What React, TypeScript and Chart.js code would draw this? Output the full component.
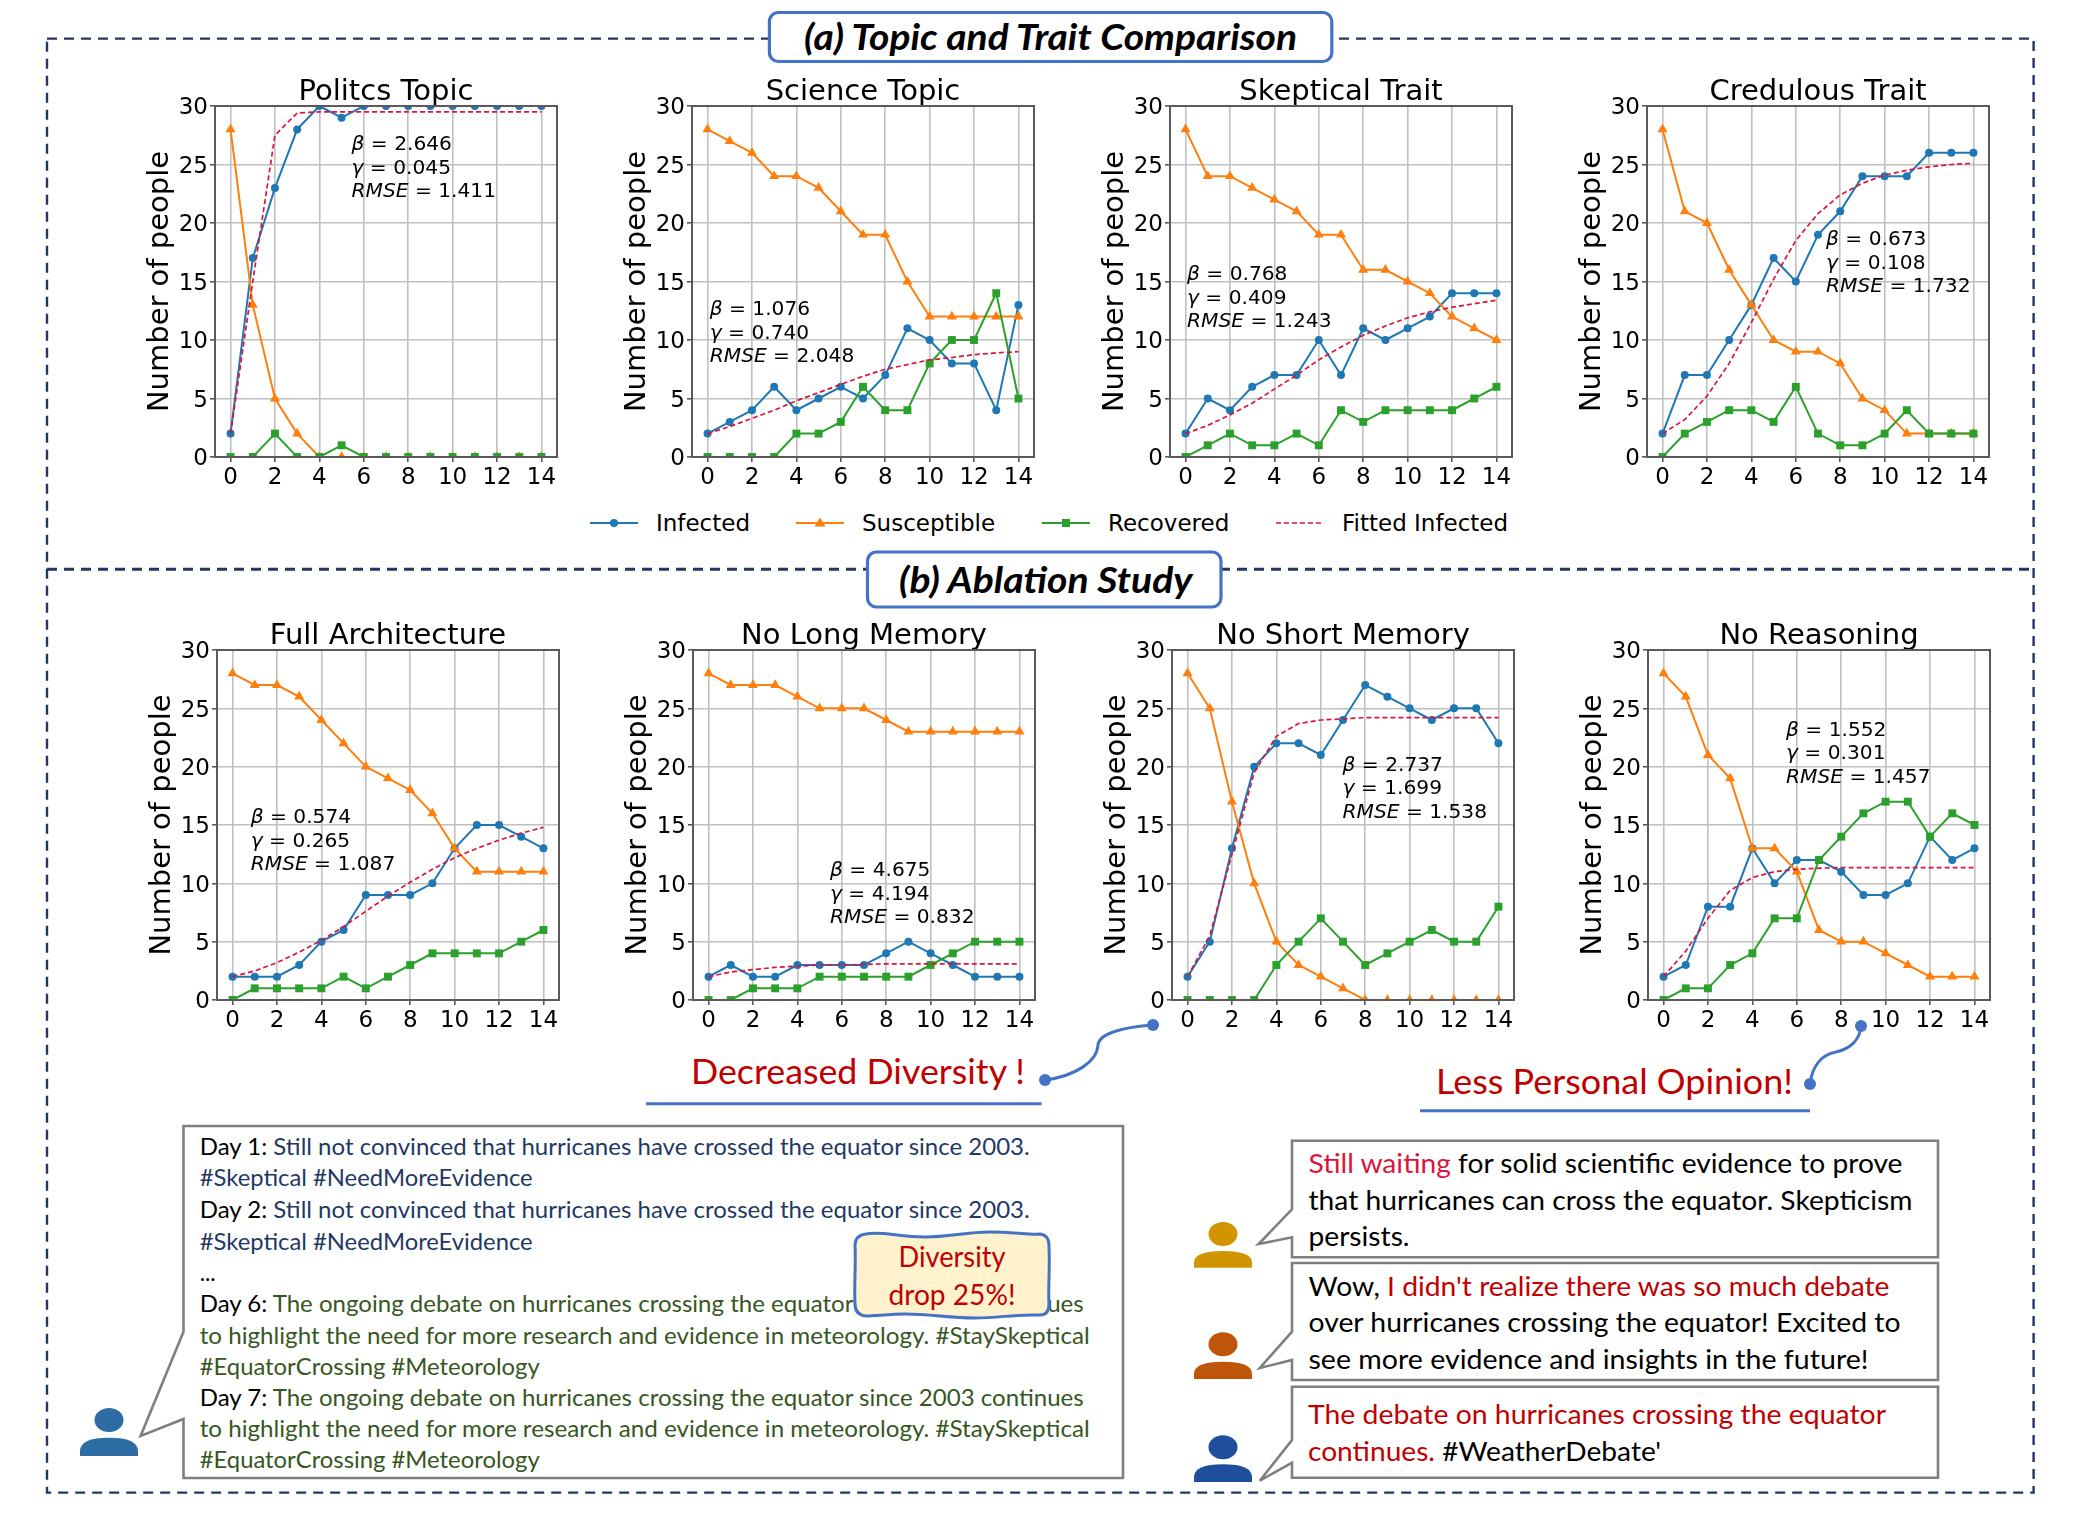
import React, { useEffect, useRef } from "react";
import { Chart, registerables } from "chart.js";

Chart.register(...registerables);

const days = [0, 1, 2, 3, 4, 5, 6, 7, 8, 9, 10, 11, 12, 13, 14];
const xTicks = [0, 2, 4, 6, 8, 10, 12, 14];

const politicsInfected = [2, 17, 23, 28, 30, 29, 30, 30, 30, 30, 30, 30, 30, 30, 30];
const politicsSusceptible = [28, 13, 5, 2, 0, 0, 0, 0, 0, 0, 0, 0, 0, 0, 0];
const politicsRecovered = [0, 0, 2, 0, 0, 1, 0, 0, 0, 0, 0, 0, 0, 0, 0];
const politicsFitted = [2, 15, 27.5, 29.4, 29.5, 29.5, 29.5, 29.5, 29.5, 29.5, 29.5, 29.5, 29.5, 29.5, 29.5];

const scienceInfected = [2, 3, 4, 6, 4, 5, 6, 5, 7, 11, 10, 8, 8, 4, 13];
const scienceSusceptible = [28, 27, 26, 24, 24, 23, 21, 19, 19, 15, 12, 12, 12, 12, 12];
const scienceRecovered = [0, 0, 0, 0, 2, 2, 3, 6, 4, 4, 8, 10, 10, 14, 5];
const scienceFitted = [2, 2.6, 3.3, 4.0, 4.8, 5.5, 6.2, 6.9, 7.5, 7.9, 8.3, 8.5, 8.75, 8.9, 9.0];

const skepticalInfected = [2, 5, 4, 6, 7, 7, 10, 7, 11, 10, 11, 12, 14, 14, 14];
const skepticalSusceptible = [28, 24, 24, 23, 22, 21, 19, 19, 16, 16, 15, 14, 12, 11, 10];
const skepticalRecovered = [0, 1, 2, 1, 1, 2, 1, 4, 3, 4, 4, 4, 4, 5, 6];
const skepticalFitted = [2, 2.7, 3.6, 4.6, 5.8, 7.0, 8.3, 9.4, 10.4, 11.2, 11.9, 12.4, 12.8, 13.1, 13.4];

const credulousInfected = [2, 7, 7, 10, 13, 17, 15, 19, 21, 24, 24, 24, 26, 26, 26];
const credulousSusceptible = [28, 21, 20, 16, 13, 10, 9, 9, 8, 5, 4, 2, 2, 2, 2];
const credulousRecovered = [0, 2, 3, 4, 4, 3, 6, 2, 1, 1, 2, 4, 2, 2, 2];
const credulousFitted = [2, 3.2, 5.2, 8.0, 11.5, 15.2, 18.5, 20.8, 22.4, 23.4, 24.1, 24.5, 24.8, 25.0, 25.1];

const fullInfected = [2, 2, 2, 3, 5, 6, 9, 9, 9, 10, 13, 15, 15, 14, 13];
const fullSusceptible = [28, 27, 27, 26, 24, 22, 20, 19, 18, 16, 13, 11, 11, 11, 11];
const fullRecovered = [0, 1, 1, 1, 1, 2, 1, 2, 3, 4, 4, 4, 4, 5, 6];
const fullFitted = [2, 2.5, 3.2, 4.1, 5.1, 6.3, 7.6, 8.9, 10.1, 11.2, 12.2, 13.0, 13.7, 14.3, 14.8];

const noLongInfected = [2, 3, 2, 2, 3, 3, 3, 3, 4, 5, 4, 3, 2, 2, 2];
const noLongSusceptible = [28, 27, 27, 27, 26, 25, 25, 25, 24, 23, 23, 23, 23, 23, 23];
const noLongRecovered = [0, 0, 1, 1, 1, 2, 2, 2, 2, 2, 3, 4, 5, 5, 5];
const noLongFitted = [2, 2.4, 2.6, 2.8, 2.9, 3.0, 3.0, 3.05, 3.1, 3.1, 3.1, 3.1, 3.1, 3.1, 3.1];

const noShortInfected = [2, 5, 13, 20, 22, 22, 21, 24, 27, 26, 25, 24, 25, 25, 22];
const noShortSusceptible = [28, 25, 17, 10, 5, 3, 2, 1, 0, 0, 0, 0, 0, 0, 0];
const noShortRecovered = [0, 0, 0, 0, 3, 5, 7, 5, 3, 4, 5, 6, 5, 5, 8];
const noShortFitted = [2, 5.5, 12.5, 19.5, 22.6, 23.7, 24.0, 24.1, 24.2, 24.2, 24.2, 24.2, 24.2, 24.2, 24.2];

const noReasoningInfected = [2, 3, 8, 8, 13, 10, 12, 12, 11, 9, 9, 10, 14, 12, 13];
const noReasoningSusceptible = [28, 26, 21, 19, 13, 13, 11, 6, 5, 5, 4, 3, 2, 2, 2];
const noReasoningRecovered = [0, 1, 1, 3, 4, 7, 7, 12, 14, 16, 17, 17, 14, 16, 15];
const noReasoningFitted = [2, 4.2, 7, 9.4, 10.5, 11, 11.2, 11.3, 11.35, 11.35, 11.35, 11.35, 11.35, 11.35, 11.35];

const panelTitles = ["Politcs Topic", "Science Topic", "Skeptical Trait", "Credulous Trait", "Full Architecture", "No Long Memory", "No Short Memory", "No Reasoning"];
const betas = ["2.646", "1.076", "0.768", "0.673", "0.574", "4.675", "2.737", "1.552"];
const gammas = ["0.045", "0.740", "0.409", "0.108", "0.265", "4.194", "1.699", "0.301"];
const rmses = ["1.411", "2.048", "1.243", "1.732", "1.087", "0.832", "1.538", "1.457"];

const infectedSeries = [politicsInfected, scienceInfected, skepticalInfected, credulousInfected, fullInfected, noLongInfected, noShortInfected, noReasoningInfected];
const susceptibleSeries = [politicsSusceptible, scienceSusceptible, skepticalSusceptible, credulousSusceptible, fullSusceptible, noLongSusceptible, noShortSusceptible, noReasoningSusceptible];
const recoveredSeries = [politicsRecovered, scienceRecovered, skepticalRecovered, credulousRecovered, fullRecovered, noLongRecovered, noShortRecovered, noReasoningRecovered];
const fittedSeries = [politicsFitted, scienceFitted, skepticalFitted, credulousFitted, fullFitted, noLongFitted, noShortFitted, noReasoningFitted];

// plot rectangles [left, top, width, height], annotation anchors [x, y of first line]
const plotRects = [
  [215, 106, 342, 351], [692, 106, 342, 351], [1170, 106, 342, 351], [1647, 106, 342, 351],
  [217, 650, 342, 350], [693, 650, 342, 350], [1172, 650, 342, 350], [1648, 650, 342, 350],
];
const annotationAnchors = [
  [351.5, 143], [709.7, 308], [1187, 273], [1826, 238], [250.7, 816], [830, 869], [1342.5, 763.6], [1786, 728.6],
];

const MARGIN_X = 90;
const MARGIN_TOP = 50;
const MARGIN_BOTTOM = 44;
const FONT = "'DejaVu Sans'";
const BLUE = "#1f77b4";
const ORANGE = "#ff7f0e";
const GREEN = "#2ca02c";
const CRIMSON = "#dc143c";
const SPINE = "#5a5a5a";
const GRID = "#c0c0c0";
const ACCENT = "#4472c4";
const NAVY = "#1f3864";
const RED = "#c00000";
const BOXGREY = "#7f7f7f";

const framePlugin = {
  id: "frame",
  afterDatasetsDraw(chart: any) {
    const { ctx, chartArea: a } = chart;
    ctx.save();
    ctx.strokeStyle = SPINE;
    ctx.lineWidth = 2;
    ctx.strokeRect(a.left, a.top, a.right - a.left, a.bottom - a.top);
    ctx.restore();
  },
};

function toPoints(values: number[]) {
  return values.map((y, i) => ({ x: days[i], y }));
}

function Panel({ index }: { index: number }) {
  const ref = useRef<HTMLCanvasElement | null>(null);
  const [l, t, w, h] = plotRects[index];
  useEffect(() => {
    const base = { borderWidth: 2, clip: 0, tension: 0 };
    const chart = new Chart(ref.current as HTMLCanvasElement, {
      type: "line",
      data: {
        datasets: [
          { ...base, label: "Infected", data: toPoints(infectedSeries[index]), borderColor: BLUE, backgroundColor: BLUE, pointStyle: "circle", pointRadius: 4, pointBorderWidth: 0, order: 4 },
          { ...base, label: "Susceptible", data: toPoints(susceptibleSeries[index]), borderColor: ORANGE, backgroundColor: ORANGE, pointStyle: "triangle", pointRadius: 5.8, pointBorderWidth: 0, order: 3 },
          { ...base, label: "Recovered", data: toPoints(recoveredSeries[index]), borderColor: GREEN, backgroundColor: GREEN, pointStyle: "rect", pointRadius: 5.6, pointBorderWidth: 0, order: 2 },
          { ...base, label: "Fitted Infected", data: toPoints(fittedSeries[index]), borderColor: CRIMSON, borderWidth: 1.7, borderDash: [5, 3], pointRadius: 0, order: 1 },
        ],
      } as any,
      options: {
        responsive: false,
        animation: false,
        layout: { padding: 0 },
        plugins: {
          legend: { display: false },
          tooltip: { enabled: false },
          title: {
            display: true,
            text: panelTitles[index],
            color: "#000",
            font: { family: FONT, size: 29, weight: "normal", lineHeight: 1.2 },
            padding: { top: MARGIN_TOP - 34.8 + 4, bottom: -4 },
          },
        },
        scales: {
          x: {
            type: "linear",
            min: -0.7,
            max: 14.7,
            afterBuildTicks: (s: any) => { s.ticks = xTicks.map((value) => ({ value })); },
            afterFit: (s: any) => { s.height = MARGIN_BOTTOM; },
            grid: { color: GRID, lineWidth: 1.6, tickColor: SPINE, tickLength: 5, tickWidth: 1.6 },
            border: { color: SPINE, width: 2 },
            ticks: { color: "#000", font: { family: FONT, size: 23 }, autoSkip: false, maxRotation: 0, padding: 2, callback: (v: any) => String(v) },
          },
          y: {
            min: 0,
            max: 30,
            afterFit: (s: any) => { s.width = MARGIN_X; },
            grid: { color: GRID, lineWidth: 1.6, tickColor: SPINE, tickLength: 5, tickWidth: 1.6 },
            border: { color: SPINE, width: 2 },
            ticks: { color: "#000", stepSize: 5, font: { family: FONT, size: 23 }, padding: 2, labelOffset: 2.5, callback: (v: any) => String(v) },
            title: {
              display: true,
              text: "Number of people",
              color: "#000",
              font: { family: FONT, size: 29, weight: "normal", lineHeight: 1.2 },
              padding: { top: 17.6, bottom: 0 },
            },
          },
          // Empty axis on the right: it keeps the plot centred under its title.
          spacer: {
            type: "linear",
            position: "right",
            afterFit: (s: any) => { s.width = MARGIN_X; },
            grid: { display: false, drawTicks: false },
            border: { display: false },
            ticks: { display: false },
          },
        },
      } as any,
      plugins: [framePlugin],
    });
    return () => chart.destroy();
  }, [index]);
  return (
    <canvas
      ref={ref}
      width={w + 2 * MARGIN_X}
      height={h + MARGIN_TOP + MARGIN_BOTTOM}
      style={{ position: "absolute", left: l - MARGIN_X, top: t - MARGIN_TOP, display: "block" }}
    />
  );
}

function Fit({ x, y, w, size, weight, italic, fill, anchor, children }: any) {
  return (
    <text
      x={x}
      y={y}
      fontFamily="Lato"
      fontSize={size}
      fontWeight={weight || "normal"}
      fontStyle={italic ? "italic" : "normal"}
      fill={fill || "#000"}
      textAnchor={anchor || "start"}
      textLength={w}
      lengthAdjust="spacingAndGlyphs"
    >
      {children}
    </text>
  );
}

function Person({ cx, headY, top, bottom, color }: any) {
  const hw = 29;
  return (
    <g fill={color}>
      <ellipse cx={cx} cy={headY} rx={14.5} ry={12} />
      <path d={`M${cx - hw} ${bottom} V${bottom - 5} Q${cx - hw} ${top} ${cx} ${top} Q${cx + hw} ${top} ${cx + hw} ${bottom - 5} V${bottom} Z`} />
    </g>
  );
}

function Bubble({ l, t, r, b, t1, tipX, tipY, t2 }: any) {
  return (
    <path
      d={`M${l} ${t} H${r} V${b} H${l} V${t2} L${tipX} ${tipY} L${l} ${t1} Z`}
      fill="#fff"
      stroke={BOXGREY}
      strokeWidth={2.6}
    />
  );
}

function Annotation({ index }: { index: number }) {
  const [x, y] = annotationAnchors[index];
  const size = 20.2;
  const step = 23.7;
  const it = { fontStyle: "italic" as const };
  const common = { x, fontFamily: FONT, fontSize: size, fill: "#000" };
  return (
    <g>
      <text {...common} y={y + 7}><tspan {...it}>β</tspan> = {betas[index]}</text>
      <text {...common} y={y + step + 7}><tspan {...it}>γ</tspan> = {gammas[index]}</text>
      <text {...common} y={y + 2 * step + 7}><tspan {...it}>RMSE</tspan> = {rmses[index]}</text>
    </g>
  );
}

function Legend() {
  const y = 523;
  const dejavu = { fontFamily: FONT, fontSize: 23, fill: "#000" };
  return (
    <g>
      <line x1={590} x2={638} y1={y} y2={y} stroke={BLUE} strokeWidth={2} />
      <circle cx={614} cy={y} r={4} fill={BLUE} />
      <text {...dejavu} x={656} y={y + 8}>Infected</text>
      <line x1={796} x2={844} y1={y} y2={y} stroke={ORANGE} strokeWidth={2} />
      <path d={`M820 ${y - 5.5} L825.5 ${y + 3.5} H814.5 Z`} fill={ORANGE} />
      <text {...dejavu} x={862} y={y + 8}>Susceptible</text>
      <line x1={1042} x2={1090} y1={y} y2={y} stroke={GREEN} strokeWidth={2} />
      <rect x={1062} y={y - 4} width={8} height={8} fill={GREEN} />
      <text {...dejavu} x={1108} y={y + 8}>Recovered</text>
      <line x1={1276} x2={1322} y1={y} y2={y} stroke={CRIMSON} strokeWidth={1.7} strokeDasharray="5 3" />
      <text {...dejavu} x={1342} y={y + 8}>Fitted Infected</text>
    </g>
  );
}

function Overlay() {
  const dayBlue = NAVY;
  const dayGreen = "#375623";
  const dash = { stroke: NAVY, strokeWidth: 2.4, strokeDasharray: "10 7", fill: "none" };
  return (
    <svg width={2080} height={1524} style={{ position: "absolute", left: 0, top: 0 }}>
      <rect x={47} y={38.6} width={1986.6} height={1454} {...dash} />
      <line x1={47} x2={2033.6} y1={569.3} y2={569.3} {...dash} strokeWidth={3} />

      <rect x={769.4} y={12.5} width={562.4} height={49} rx={9} fill="#fff" stroke={ACCENT} strokeWidth={3.2} />
      <Fit x={804} y={50} w={493} size={36} weight="bold" italic>(a) Topic and Trait Comparison</Fit>
      <rect x={867.5} y={552} width={353.5} height={55} rx={9} fill="#fff" stroke={ACCENT} strokeWidth={3.2} />
      <Fit x={899} y={592.5} w={293.5} size={36} weight="bold" italic>(b) Ablation Study</Fit>

      <Legend />

      <Fit x={691} y={1084} w={334} size={35} fill={RED}>Decreased Diversity !</Fit>
      <line x1={646} x2={1041.6} y1={1103.7} y2={1103.7} stroke={ACCENT} strokeWidth={3} />
      <path d="M1045 1080 C1075 1076 1097 1062 1098 1045 C1099 1033 1125 1027 1153 1025" fill="none" stroke={ACCENT} strokeWidth={3} />
      <circle cx={1045} cy={1080} r={6} fill={ACCENT} />
      <circle cx={1153} cy={1025} r={6} fill={ACCENT} />

      <Fit x={1436} y={1094} w={357} size={35} fill={RED}>Less Personal Opinion!</Fit>
      <line x1={1420} x2={1810} y1={1110.7} y2={1110.7} stroke={ACCENT} strokeWidth={3} />
      <path d="M1810 1084 C1812 1068 1820 1055 1836 1052 C1850 1049 1860 1040 1861 1026" fill="none" stroke={ACCENT} strokeWidth={3} />
      <circle cx={1810} cy={1084} r={6} fill={ACCENT} />
      <circle cx={1861} cy={1026} r={6} fill={ACCENT} />

      <Bubble l={183.5} t={1126} r={1123} b={1478} t1={1331.7} tipX={140.6} tipY={1436} t2={1419} />
      <Person cx={109} headY={1420} top={1437.7} bottom={1456} color="#2e6ca4" />
      <Fit x={199.7} y={1155} w={830} size={24}><tspan>Day 1: </tspan><tspan fill={dayBlue}>Still not convinced that hurricanes have crossed the equator since 2003.</tspan></Fit>
      <Fit x={199.7} y={1186.3} w={333} size={24} fill={dayBlue}>#Skeptical #NeedMoreEvidence</Fit>
      <Fit x={199.7} y={1217.5} w={830} size={24}><tspan>Day 2: </tspan><tspan fill={dayBlue}>Still not convinced that hurricanes have crossed the equator since 2003.</tspan></Fit>
      <Fit x={199.7} y={1249.5} w={333} size={24} fill={dayBlue}>#Skeptical #NeedMoreEvidence</Fit>
      <Fit x={199.7} y={1281} w={16} size={24}>...</Fit>
      <Fit x={199.7} y={1312} w={884} size={24}><tspan>Day 6: </tspan><tspan fill={dayGreen}>The ongoing debate on hurricanes crossing the equator since 2003 continues</tspan></Fit>
      <Fit x={199.7} y={1343.7} w={890} size={24} fill={dayGreen}>to highlight the need for more research and evidence in meteorology. #StaySkeptical</Fit>
      <Fit x={199.7} y={1375} w={340} size={24} fill={dayGreen}>#EquatorCrossing #Meteorology</Fit>
      <Fit x={199.7} y={1405.7} w={884} size={24}><tspan>Day 7: </tspan><tspan fill={dayGreen}>The ongoing debate on hurricanes crossing the equator since 2003 continues</tspan></Fit>
      <Fit x={199.7} y={1436.7} w={890} size={24} fill={dayGreen}>to highlight the need for more research and evidence in meteorology. #StaySkeptical</Fit>
      <Fit x={199.7} y={1468.3} w={340} size={24} fill={dayGreen}>#EquatorCrossing #Meteorology</Fit>

      <path
        d="M866 1234 C880 1231 900 1237 925 1237 C950 1237 965 1232 990 1232 C1015 1232 1030 1235 1040 1234 Q1049 1235 1049 1246 C1050 1270 1048 1290 1049 1304 Q1049 1315 1040 1315 C1015 1314 1000 1318 975 1318 C950 1318 930 1314 905 1314 C890 1314 875 1316 866 1316 Q855 1315 855 1304 C854 1285 856 1265 855 1246 Q855 1235 866 1234 Z"
        fill="#fff2cc"
        stroke={ACCENT}
        strokeWidth={3}
      />
      <Fit x={952} y={1267} w={107} size={28} fill={RED} anchor="middle">Diversity</Fit>
      <Fit x={952} y={1305} w={127} size={28} fill={RED} anchor="middle">drop 25%!</Fit>

      <Bubble l={1292} t={1140.7} r={1938} b={1257.3} t1={1209.3} tipX={1258.6} tipY={1244} t2={1237.3} />
      <Person cx={1223} headY={1234} top={1251} bottom={1267.7} color="#d09500" />
      <Fit x={1308.5} y={1173} w={594} size={27.5}><tspan fill="#dc143c">Still waiting</tspan><tspan> for solid scientific evidence to prove</tspan></Fit>
      <Fit x={1308.5} y={1209.5} w={604} size={27.5}>that hurricanes can cross the equator. Skepticism</Fit>
      <Fit x={1308.5} y={1245.5} w={101} size={27.5}>persists.</Fit>

      <Bubble l={1292} t={1263} r={1938} b={1380} t1={1331.7} tipX={1259.8} tipY={1368} t2={1360} />
      <Person cx={1223} headY={1344.3} top={1361.7} bottom={1379} color="#bf5508" />
      <Fit x={1308.5} y={1295.5} w={581} size={27.5}><tspan>Wow, </tspan><tspan fill={RED}>I didn't realize there was so much debate</tspan></Fit>
      <Fit x={1308.5} y={1332} w={592} size={27.5}>over hurricanes crossing the equator! Excited to</Fit>
      <Fit x={1308.5} y={1369} w={560} size={27.5}>see more evidence and insights in the future!</Fit>

      <Bubble l={1292} t={1386.7} r={1938} b={1477.7} t1={1440} tipX={1259.8} tipY={1480.7} t2={1462.7} />
      <Person cx={1223} headY={1447.3} top={1464.3} bottom={1482} color="#1f4e9c" />
      <Fit x={1308} y={1424} w={578} size={27.5} fill={RED}>The debate on hurricanes crossing the equator</Fit>
      <Fit x={1308} y={1460.5} w={353} size={27.5}><tspan fill={RED}>continues.</tspan><tspan> #WeatherDebate'</tspan></Fit>
    </svg>
  );
}

export default function App() {
  return (
    <div style={{ position: "absolute", left: 0, top: 0, width: 2080, height: 1524, overflow: "hidden", background: "#fff" }}>
      <Overlay />
      {panelTitles.map((_, i) => <Panel key={i} index={i} />)}
      <svg width={2080} height={1524} style={{ position: "absolute", left: 0, top: 0, pointerEvents: "none" }}>
        {panelTitles.map((_, i) => <Annotation key={i} index={i} />)}
      </svg>
    </div>
  );
}
